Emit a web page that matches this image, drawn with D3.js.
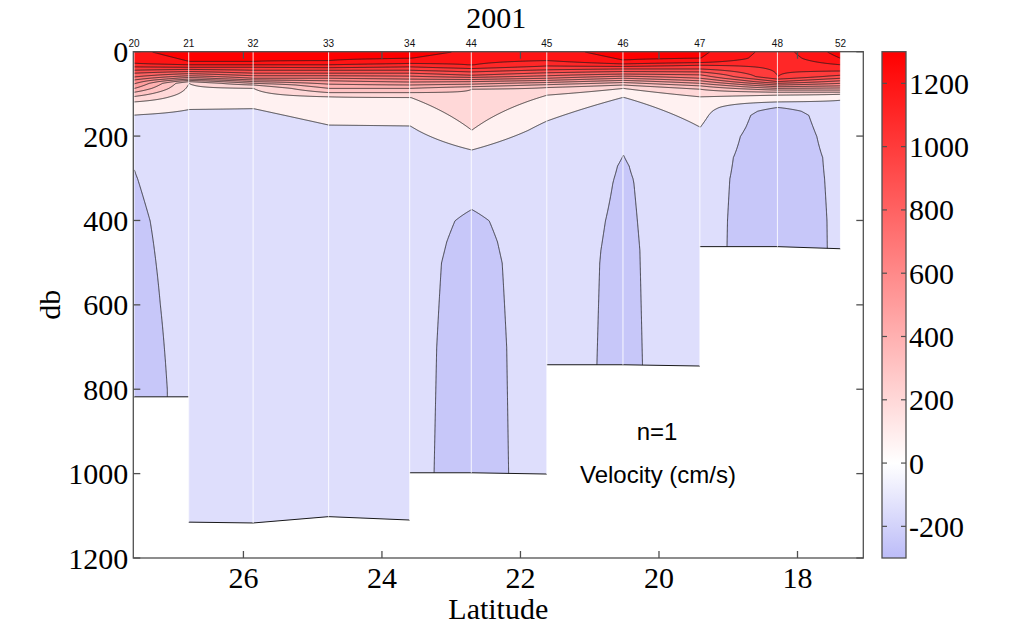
<!DOCTYPE html>
<html><head><meta charset="utf-8">
<script src="https://cdn.jsdelivr.net/npm/d3@7"></script>
<style>body{margin:0;background:#fff}svg{display:block}</style>
</head><body>
<script>
// ---------------- data ----------------
const stationNames = ["20","21","32","33","34","44","45","46","47","48","52"];
const stationLat   = [27.58,26.79,25.86,24.77,23.60,22.71,21.62,20.52,19.41,18.29,17.38];
const stationBottom = [818,1115,1117,1102,1110,998,1001,742,745,462,467];
// velocity profiles per station: [pressure (db), velocity]
const profile20 = [[0,1170],[27,1100],[35,1000],[43,900],[50,800],[59,700],[66,600],[75,500],[86,400],[95,300],[105,200],[118,100],[149,0],[220,-120],[280,-200],[300,-203],[400,-216],[600,-236],[800,-260],[1200,-262]];
const profile21 = [[0,1260],[22,1200],[30,1100],[36,1000],[41,900],[46,800],[51,700],[56,600],[60,500],[64,400],[67,300],[70,200],[74,100],[136,0],[200,-100],[300,-150],[400,-160],[1200,-160]];
const profile32 = [[0,1250],[22,1200],[30,1100],[36,1000],[43,900],[50,800],[56,700],[62,600],[66,500],[70,400],[74,300],[78,200],[86,100],[134,0],[200,-100],[300,-150],[400,-160],[1200,-160]];
const profile33 = [[0,1250],[20,1200],[30,1100],[37,1000],[43,900],[50,800],[56,700],[62,600],[68,500],[76,400],[86,300],[96,200],[106,100],[173,0],[230,-100],[300,-150],[400,-160],[1200,-160]];
const profile34 = [[0,1240],[15,1200],[27,1100],[35,1000],[43,900],[50,800],[57,700],[64,600],[71,500],[78,400],[86,300],[96,200],[107,100],[175,0],[250,-100],[300,-140],[400,-160],[500,-170],[700,-172],[1000,-174],[1200,-175]];
const profile44 = [[0,1180],[31,1100],[39,1000],[47,900],[55,800],[60,700],[65,600],[70,500],[76,400],[82,300],[88,200],[185,100],[232,0],[300,-120],[350,-180],[373,-200],[400,-215],[450,-224],[500,-229],[700,-237],[1000,-241],[1200,-242]];
const profile45 = [[0,1150],[20,1100],[33,1000],[42,900],[49,800],[56,700],[62,600],[67,500],[72,400],[77,300],[84,200],[102,100],[163,0],[230,-100],[300,-130],[400,-150],[500,-157],[1200,-157]];
const profile46 = [[0,1250],[19,1200],[28,1100],[34,1000],[40,900],[46,800],[52,700],[57,600],[62,500],[67,400],[72,300],[78,200],[86,100],[107,0],[170,-120],[244,-200],[270,-207],[311,-211],[470,-219],[740,-223],[1200,-225]];
const profile47 = [[0,1220],[15,1200],[25,1100],[31,1000],[40,900],[47,800],[54,700],[62,600],[68,500],[74,400],[80,300],[88,200],[106,100],[178,0],[200,-40],[250,-100],[300,-130],[1200,-130]];
const profile48 = [[0,1050],[58,1000],[64,900],[70,800],[74,700],[78,600],[82,500],[86,400],[90,300],[95,200],[102,100],[118,0],[131,-200],[140,-289],[150,-329],[200,-350],[250,-335],[300,-314],[400,-330],[500,-336],[1200,-336]];
const profile52 = [[0,1240],[15,1200],[30,1100],[45,1000],[55,900],[62,800],[68,700],[74,600],[80,500],[85,400],[90,300],[95,200],[100,100],[114,0],[150,-66],[200,-107],[250,-145],[300,-160],[400,-163],[1200,-163]];
const profiles = [profile20,profile21,profile32,profile33,profile34,profile44,profile45,profile46,profile47,profile48,profile52];

const contourLevels = [-200,0,100,200,300,400,500,600,700,800,900,1000,1100,1200];
const yTicks = [0,200,400,600,800,1000,1200];
const xTicks = [26,24,22,20,18];
const cbarTicks = [-200,0,200,400,600,800,1000,1200];
const cbarRange = [-300,1300];

// ---------------- layout ----------------
const W = 1024, H = 628;
const L = 133.3, R = 863.3, T = 51.7, B = 558;
const svg = d3.select("body").append("svg").attr("width", W).attr("height", H);
const x = d3.scaleLinear().domain([27.59, 17.05]).range([L, R]);
const y = d3.scaleLinear().domain([0, 1200]).range([T, B]);
const serif = "'Liberation Serif','Times New Roman',serif";
const sans = "'Liberation Sans',Arial,sans-serif";
const axisCol = "#505050";
const bigFont = 30;

function cmap(v) {
  if (v >= 0) { const t = Math.min(v / 1300, 1); const g = Math.round(255 * (1 - t)); return `rgb(255,${g},${g})`; }
  const t = Math.min(-v / 300, 1); return `rgb(${Math.round(255-67*t)},${Math.round(255-67*t)},${Math.round(255-7*t)})`;
}
function bandColor(level) { return cmap(level < 0 ? level + 50 : level === 0 ? 70 : level + 100); }
function interpProfile(p, d) {
  if (d <= p[0][0]) return p[0][1];
  const n = p.length;
  if (d >= p[n-1][0]) return p[n-1][1];
  let i = 0; while (p[i+1][0] < d) i++;
  const t = (d - p[i][0]) / (p[i+1][0] - p[i][0]);
  return p[i][1] + t * (p[i+1][1] - p[i][1]);
}
const sx = stationLat.map(x);
const ns = sx.length;

// grid (pixels across, db down)
const stepX = 1, stepD = 2;
const gx0 = sx[0] - 3 * stepX, gd0 = -6;
const nx = Math.ceil((sx[ns-1] + 3 - gx0) / stepX) + 1;
const ny = Math.ceil((1140 - gd0) / stepD) + 1;
const values = new Float64Array(nx * ny);
for (let i = 0; i < nx; i++) {
  const px = gx0 + i * stepX;
  let k = 0; while (k < ns - 2 && px > sx[k+1]) k++;
  let t = (px - sx[k]) / (sx[k+1] - sx[k]); t = Math.max(0, Math.min(1, t));
  for (let j = 0; j < ny; j++) {
    const d = gd0 + j * stepD;
    values[j * nx + i] = (1 - t) * interpProfile(profiles[k], d) + t * interpProfile(profiles[k+1], d);
  }
}
const contours = d3.contours().size([nx, ny]).thresholds(contourLevels)(values);
const proj = d3.geoTransform({ point(a, b) { this.stream.point(gx0 + a * stepX, y(gd0 + b * stepD)); } });
const path = d3.geoPath(proj);

// segment floors
const floors = [];
for (let i = 0; i < ns - 1; i++) {
  const a = stationBottom[i], b = stationBottom[i+1];
  const l = a <= b + 30 ? a : b, r = b <= a + 30 ? b : a;
  floors.push([l, r]);
}
let clipPts = [[sx[0], y(0)], [sx[ns-1], y(0)]];
for (let i = ns - 2; i >= 0; i--) { clipPts.push([sx[i+1], y(floors[i][1])]); clipPts.push([sx[i], y(floors[i][0])]); }
svg.append("clipPath").attr("id", "dataclip").append("polygon").attr("points", clipPts.map(p => p.join(",")).join(" "));

const field = svg.append("g").attr("clip-path", "url(#dataclip)");
field.append("rect").attr("x", sx[0]).attr("y", y(0)).attr("width", sx[ns-1] - sx[0]).attr("height", y(1200) - y(0)).attr("fill", cmap(-250));
field.selectAll("path.fill").data(contours).join("path").attr("class", "fill")
  .attr("d", path).attr("fill", d => bandColor(d.value)).attr("stroke", "none");
field.selectAll("path.line").data(contours).join("path").attr("class", "line")
  .attr("d", path).attr("fill", "none").attr("stroke", "#1a1a1a").attr("stroke-width", 0.8);

// floor lines
svg.append("g").selectAll("line").data(floors).join("line")
  .attr("x1", (d, i) => sx[i]).attr("x2", (d, i) => sx[i+1])
  .attr("y1", d => y(d[0])).attr("y2", d => y(d[1]))
  .attr("stroke", "#1a1a1a").attr("stroke-width", 1);

// white station lines
svg.append("g").selectAll("line").data(sx).join("line")
  .attr("x1", d => d).attr("x2", d => d).attr("y1", y(0))
  .attr("y2", (d, i) => y(Math.max(i > 0 ? floors[i-1][1] : 0, i < ns - 1 ? floors[i][0] : 0)))
  .attr("stroke", "#fff").attr("stroke-opacity", 0.85).attr("stroke-width", 1);

// station labels
svg.append("g").selectAll("text").data(stationNames).join("text")
  .attr("x", (d, i) => sx[i]).attr("y", 47).attr("text-anchor", "middle")
  .attr("font-family", sans).attr("font-size", 10).attr("fill", "#111").text(d => d);

// axes box and ticks
const ax = svg.append("g").attr("stroke", axisCol).attr("stroke-width", 1.3);
ax.append("rect").attr("x", L).attr("y", T).attr("width", R - L).attr("height", B - T).attr("fill", "none");
const tl = 7;
yTicks.forEach(v => {
  ax.append("line").attr("x1", L).attr("x2", L + tl).attr("y1", y(v)).attr("y2", y(v));
  ax.append("line").attr("x1", R).attr("x2", R - tl).attr("y1", y(v)).attr("y2", y(v));
});
xTicks.forEach(v => {
  ax.append("line").attr("x1", x(v)).attr("x2", x(v)).attr("y1", B).attr("y2", B - tl);
  ax.append("line").attr("x1", x(v)).attr("x2", x(v)).attr("y1", T).attr("y2", T + tl);
});
svg.append("g").selectAll("text").data(yTicks).join("text")
  .attr("x", L - 5).attr("y", d => y(d)).attr("dy", "0.35em").attr("text-anchor", "end")
  .attr("font-family", serif).attr("font-size", bigFont).attr("fill", "#000").text(d => d);
svg.append("g").selectAll("text").data(xTicks).join("text")
  .attr("x", d => x(d)).attr("y", 588).attr("text-anchor", "middle")
  .attr("font-family", serif).attr("font-size", bigFont).attr("fill", "#000").text(d => d);
svg.append("text").attr("x", (L + R) / 2).attr("y", 619).attr("text-anchor", "middle")
  .attr("font-family", serif).attr("font-size", bigFont).text("Latitude");
svg.append("text").attr("transform", `translate(60,${(T + B) / 2}) rotate(-90)`).attr("text-anchor", "middle")
  .attr("font-family", serif).attr("font-size", bigFont).text("db");
svg.append("text").attr("x", (L + R) / 2 - 2).attr("y", 28).attr("text-anchor", "middle")
  .attr("font-family", serif).attr("font-size", bigFont).text("2001");

// annotations
svg.append("text").attr("x", 657).attr("y", 440).attr("text-anchor", "middle")
  .attr("font-family", sans).attr("font-size", 24).text("n=1");
svg.append("text").attr("x", 658).attr("y", 483).attr("text-anchor", "middle")
  .attr("font-family", sans).attr("font-size", 24).text("Velocity (cm/s)");

// colorbar
const cbL = 882, cbR = 906;
const cy = d3.scaleLinear().domain(cbarRange).range([B, T]);
const grad = svg.append("defs").append("linearGradient").attr("id", "cbgrad")
  .attr("x1", 0).attr("x2", 0).attr("y1", 1).attr("y2", 0);
[-300, 0, 1300].forEach(v => grad.append("stop")
  .attr("offset", (v - cbarRange[0]) / (cbarRange[1] - cbarRange[0])).attr("stop-color", cmap(v)));
svg.append("rect").attr("x", cbL).attr("y", T).attr("width", cbR - cbL).attr("height", B - T)
  .attr("fill", "url(#cbgrad)").attr("stroke", axisCol).attr("stroke-width", 1.3);
const cbt = svg.append("g").attr("stroke", axisCol).attr("stroke-width", 1.2);
cbarTicks.forEach(v => {
  cbt.append("line").attr("x1", cbL).attr("x2", cbL + 5).attr("y1", cy(v)).attr("y2", cy(v));
  cbt.append("line").attr("x1", cbR).attr("x2", cbR - 5).attr("y1", cy(v)).attr("y2", cy(v));
});
svg.append("g").selectAll("text").data(cbarTicks).join("text")
  .attr("x", cbR + 3).attr("y", d => cy(d)).attr("dy", "0.35em")
  .attr("font-family", serif).attr("font-size", bigFont).attr("fill", "#000").text(d => d);
</script>
</body></html>
